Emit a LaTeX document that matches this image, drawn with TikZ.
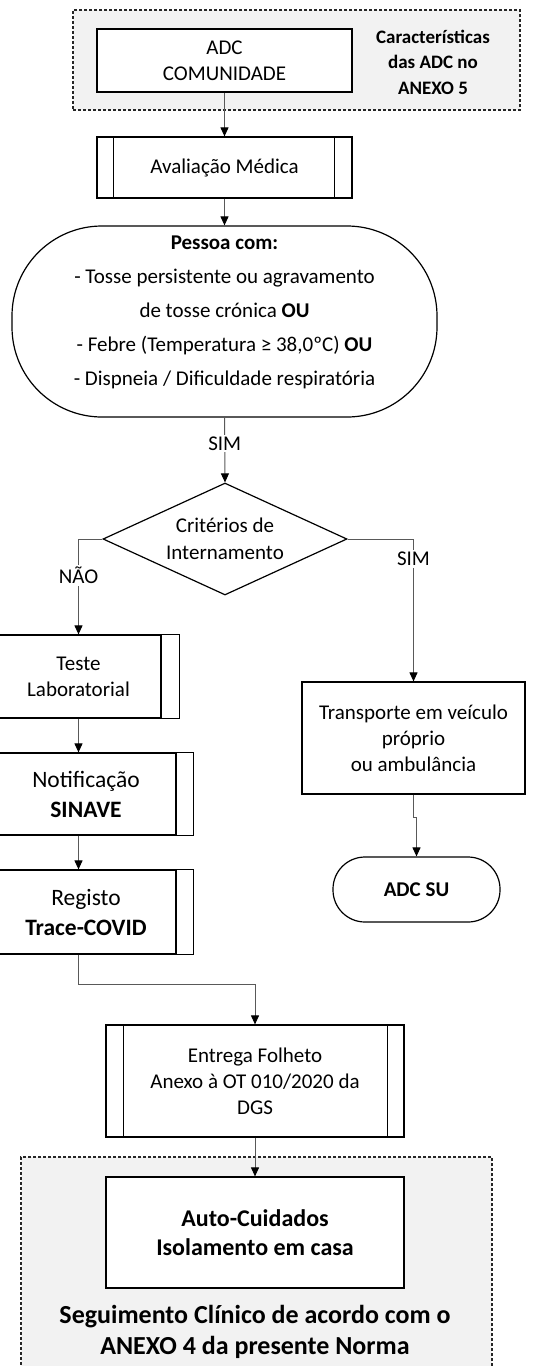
\documentclass[tikz,border=0pt]{standalone}
\usepackage{fontspec}
\setmainfont{Carlito}
\usetikzlibrary{shapes.geometric,arrows.meta,calc}
\definecolor{grpfill}{HTML}{F2F2F2}
\begin{document}
\begin{tikzpicture}[x=1pt,y=-1pt,
  box/.style={draw=black, line width=1.2pt, fill=white, inner sep=0pt, align=center, font=\fontsize{21}{26}\selectfont},
  bigtxt/.style={font=\fontsize{23.5}{30}\selectfont},
  edge/.style={line width=1.2pt, draw=black},
  conn/.style={draw=black!65, line width=1pt, -{Triangle[length=9pt,width=8pt,color=black]}},
  grp/.style={draw=black!85, fill=grpfill, dash pattern=on 3pt off 2pt, line width=1.2pt, inner sep=0pt},
  lbl/.style={fill=white, inner sep=2pt, font=\fontsize{21}{26}\selectfont},
  txt/.style={inner sep=0pt, align=center}]
\useasboundingbox (0,0) rectangle (545,1366);

% group boxes
\node[grp, minimum width=447pt, minimum height=100pt] (grpTop) at (296.5,60) {};
\node[grp, minimum width=471pt, minimum height=213pt] (grpBot) at (256.5,1263.5) {};

\node[txt, font=\fontsize{19}{25.5}\selectfont\bfseries] (carac) at (433,62) {Características\\das ADC no\\ANEXO 5};

\node[box, minimum width=255pt, minimum height=63pt] (adc) at (224.5,60.5) {ADC\\COMUNIDADE};

\node[box, minimum width=255pt, minimum height=61pt] (aval) at (224.5,167.5) {Avaliação Médica};
\draw[edge] ([xshift=17pt]aval.north west) -- ([xshift=17pt]aval.south west);
\draw[edge] ([xshift=-18pt]aval.north east) -- ([xshift=-18pt]aval.south east);

\node[box, rounded corners=90pt, minimum width=425pt, minimum height=191pt] (pessoa) at (224.5,321.5) {};
\node[txt, font=\fontsize{21}{34}\selectfont] (pessoaT) at (224.5,312.5)
  {\textbf{Pessoa com:}\\- Tosse persistente ou agravamento\\de tosse crónica \textbf{OU}\\- Febre (Temperatura ≥ 38,0ºC) \textbf{OU}\\- Dispneia / Dificuldade respiratória};

\node[draw=black, line width=1.2pt, fill=white, diamond, shape aspect=2.18, minimum width=244pt, minimum height=112pt, inner sep=0pt, align=center, font=\fontsize{21}{27}\selectfont] (crit) at (225,539) {Critérios de\\Internamento};

\node[box, minimum width=165pt, minimum height=83pt] (teste) at (78.5,676.5) {Teste\\Laboratorial};
\draw[edge] (teste.north east) rectangle ([xshift=18pt]teste.south east);

\node[box, bigtxt, minimum width=180pt, minimum height=82pt] (notif) at (86,794) {Notificação\\\textbf{SINAVE}};
\draw[edge] (notif.north east) rectangle ([xshift=17pt]notif.south east);

\node[box, bigtxt, minimum width=180pt, minimum height=84pt] (registo) at (86,912) {Registo\\\textbf{Trace-COVID}};
\draw[edge] (registo.north east) rectangle ([xshift=17pt]registo.south east);

\node[box, minimum width=223pt, minimum height=112pt] (transp) at (413.5,738) {Transporte em veículo\\próprio\\ou ambulância};

\node[box, rounded corners=32pt, minimum width=167pt, minimum height=65pt, font=\fontsize{21}{26}\selectfont\bfseries] (adcsu) at (416.5,889.5) {ADC SU};

\node[box, minimum width=298pt, minimum height=112pt] (entrega) at (255,1081) {Entrega Folheto\\Anexo à OT 010/2020 da\\DGS};
\draw[edge] ([xshift=18pt]entrega.north west) -- ([xshift=18pt]entrega.south west);
\draw[edge] ([xshift=-17pt]entrega.north east) -- ([xshift=-17pt]entrega.south east);

\node[box, minimum width=298pt, minimum height=111pt, font=\fontsize{24}{29}\selectfont\bfseries] (auto) at (255,1232.5) {Auto-Cuidados\\Isolamento em casa};

\node[txt, font=\fontsize{26}{31}\selectfont\bfseries] (seg) at (255,1332) {Seguimento Clínico de acordo com o\\ANEXO 4 da presente Norma};

% connectors
\draw[conn] (adc.south) -- (aval.north);
\draw[conn] (aval.south) -- (pessoa.north);
\draw[conn] (pessoa.south) -- node[lbl, pos=0.4] {SIM} (crit.north);
\draw[conn] (crit.west) -| node[lbl, pos=0.69] {NÃO} (teste.north);
\draw[conn] (crit.east) -| node[lbl, pos=0.57] {SIM} (transp.north);
\draw[conn] (teste.south) -- (teste.south |- notif.north);
\draw[conn] (notif.south -| teste.south) -- (teste.south |- registo.north);
\draw[conn] (registo.south -| teste.south) -- ++(0,30) -| (entrega.north);
\draw[conn] (transp.south) -- ++(0,23) -| (adcsu.north);
\draw[conn] (entrega.south) -- (auto.north);
\end{tikzpicture}
\end{document}
